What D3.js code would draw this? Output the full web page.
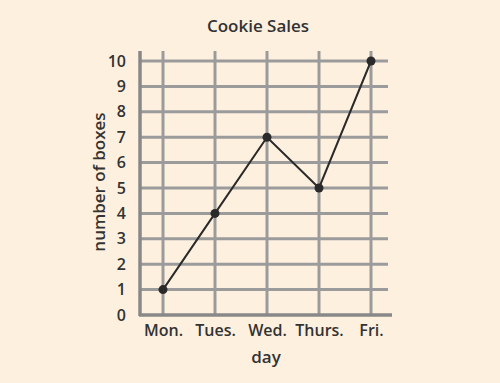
<!DOCTYPE html>
<html>
<head>
<meta charset="utf-8">
<script src="https://cdn.jsdelivr.net/npm/d3@7"></script>
<style>
  body{margin:0;background:#fdf0df;}
  svg{display:block;}
  text{font-family:"Open Sans","DejaVu Sans",sans-serif;fill:#333;font-weight:600;}
</style>
</head>
<body>
<svg id="chart" width="500" height="383"></svg>
<script>
// chart data
var days=["Mon.","Tues.","Wed.","Thurs.","Fri."];
var boxes=[1,4,7,5,10];
var yTicks=[0,1,2,3,4,5,6,7,8,9,10];

var svg=d3.select("#chart");
svg.append("rect").attr("width",500).attr("height",383).attr("fill","#fdf0df");

var x=d3.scalePoint().domain(days).range([163,371]);
var y=d3.scaleLinear().domain([0,10]).range([315,61]);
var gridColor="#9b9b9b";

//horizontal grid lines
svg.append("g").selectAll("line").data(yTicks.slice(1)).enter().append("line")
	.attr("x1",140).attr("x2",388)
	.attr("y1",function(d){return y(d);}).attr("y2",function(d){return y(d);})
	.attr("stroke",gridColor).attr("stroke-width",3);

//vertical grid lines
svg.append("g").selectAll("line").data(days).enter().append("line")
	.attr("x1",function(d){return x(d);}).attr("x2",function(d){return x(d);})
	.attr("y1",51).attr("y2",315)
	.attr("stroke",gridColor).attr("stroke-width",3);

//axes lines
svg.append("line").attr("x1",140).attr("x2",140).attr("y1",51).attr("y2",316)
	.attr("stroke","#888").attr("stroke-width",3.5);
svg.append("line").attr("x1",139).attr("x2",392).attr("y1",315).attr("y2",315)
	.attr("stroke","#888").attr("stroke-width",3.5);

//y axis labels
var yAxis=d3.axisLeft(y).tickValues(yTicks).tickSize(0).tickPadding(10).tickFormat(d3.format("d"));
var gy=svg.append("g").attr("transform","translate(136,0)").call(yAxis);
gy.select(".domain").remove();
gy.selectAll("text").style("font-size","16px").attr("fill","#333");

//x axis labels
var xAxis=d3.axisBottom(x).tickSize(0).tickPadding(8);
var gx=svg.append("g").attr("transform","translate(0,317)").call(xAxis);
gx.select(".domain").remove();
gx.selectAll("text").style("font-size","16px").attr("fill","#333");

//line
var line=d3.line()
	.x(function(d,i){return x(days[i]);})
	.y(function(d){return y(d);});
svg.append("path").datum(boxes).attr("d",line)
	.attr("fill","none").attr("stroke","#2a2a2a").attr("stroke-width",2);
svg.selectAll(".dot").data(boxes).enter().append("circle")
	.attr("class","dot")
	.attr("cx",function(d,i){return x(days[i]);})
	.attr("cy",function(d){return y(d);})
	.attr("r",4.5).attr("fill","#2a2a2a");

//titles
svg.append("text").attr("x",258).attr("y",32).attr("text-anchor","middle")
	.style("font-size","17px").text("Cookie Sales");
svg.append("text").attr("x",266).attr("y",363).attr("text-anchor","middle")
	.style("font-size","17px").text("day");
svg.append("text").attr("transform","translate(105,182) rotate(-90)").attr("text-anchor","middle")
	.style("font-size","17px").text("number of boxes");
</script>
</body>
</html>
